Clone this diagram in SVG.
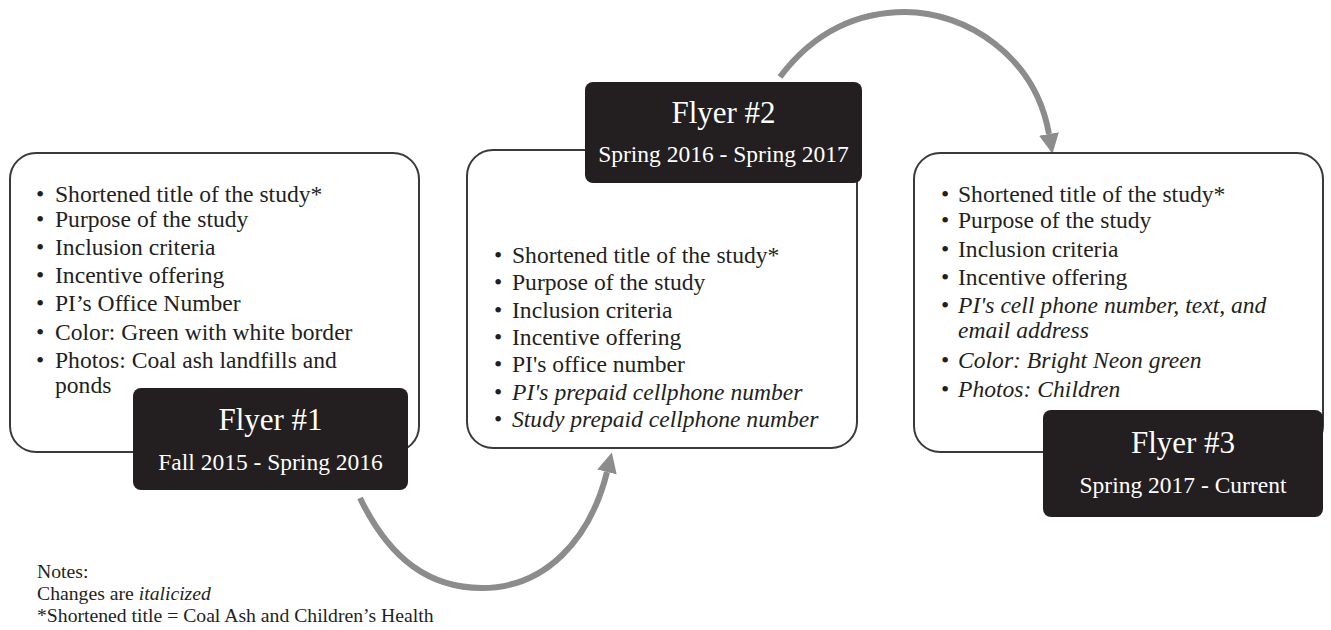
<svg xmlns="http://www.w3.org/2000/svg" width="1331" height="630" viewBox="0 0 1331 630">
<style>
.card{fill:#ffffff;stroke:#3a3a3a;stroke-width:2}
.tag{fill:#231f20}
.b{font-family:"Liberation Serif","Times New Roman",serif;font-size:23.6px;fill:#231f20}
.i{font-style:italic}
.t1{font-family:"Liberation Serif","Times New Roman",serif;font-size:31px;fill:#ffffff;text-anchor:middle}
.t2{font-family:"Liberation Serif","Times New Roman",serif;font-size:23.5px;fill:#ffffff;text-anchor:middle}
.note{font-family:"Liberation Serif","Times New Roman",serif;font-size:19.7px;fill:#231f20}
.arr{fill:none;stroke:#8c8c8c;stroke-width:6;stroke-linecap:butt}
</style>
<defs>
<marker id="ah" viewBox="0 0 10 10" refX="0" refY="5" markerWidth="20" markerHeight="20" markerUnits="userSpaceOnUse" orient="auto">
<path d="M0,0 L10,5 L0,10 z" fill="#8c8c8c"/>
</marker>
</defs>
<rect width="1331" height="630" fill="#ffffff"/>

<g id="connectors">
<path class="arr" d="M 360 498 C 390 560, 430 588, 482 588 C 545 588, 590 540, 607 472" marker-end="url(#ah)"/>
<path class="arr" d="M 780 77 C 815 30, 860 12, 905 12 C 965 12, 1035 55, 1049 134" marker-end="url(#ah)"/>
</g>

<g id="flyer1">
<rect class="card" x="10" y="153" width="409" height="299" rx="26"/>
<g class="b">
<text x="36" y="202">•</text><text x="55" y="202">Shortened title of the study*</text>
<text x="36" y="227">•</text><text x="55" y="227">Purpose of the study</text>
<text x="36" y="255">•</text><text x="55" y="255">Inclusion criteria</text>
<text x="36" y="283">•</text><text x="55" y="283">Incentive offering</text>
<text x="36" y="311">•</text><text x="55" y="311">PI’s Office Number</text>
<text x="36" y="340">•</text><text x="55" y="340">Color: Green with white border</text>
<text x="36" y="368">•</text><text x="55" y="368">Photos: Coal ash landfills and</text>
<text x="55" y="393">ponds</text>
</g>
<rect class="tag" x="133" y="388" width="275" height="102" rx="8"/>
<text class="t1" x="270.5" y="430">Flyer #1</text>
<text class="t2" x="270.5" y="470">Fall 2015 - Spring 2016</text>
</g>

<g id="flyer2">
<rect class="card" x="467" y="150" width="390" height="298" rx="26"/>
<g class="b">
<text x="494" y="263">•</text><text x="512" y="263">Shortened title of the study*</text>
<text x="494" y="290">•</text><text x="512" y="290">Purpose of the study</text>
<text x="494" y="318">•</text><text x="512" y="318">Inclusion criteria</text>
<text x="494" y="345">•</text><text x="512" y="345">Incentive offering</text>
<text x="494" y="372">•</text><text x="512" y="372">PI's office number</text>
<text x="494" y="400">•</text><text class="i" x="512" y="400">PI's prepaid cellphone number</text>
<text x="494" y="427">•</text><text class="i" x="512" y="427">Study prepaid cellphone number</text>
</g>
<rect class="tag" x="585" y="82" width="277" height="101" rx="8"/>
<text class="t1" x="723.5" y="123">Flyer #2</text>
<text class="t2" x="723.5" y="162">Spring 2016 - Spring 2017</text>
</g>

<g id="flyer3">
<rect class="card" x="914" y="153" width="409" height="299" rx="26"/>
<g class="b">
<text x="941" y="202">•</text><text x="958" y="202">Shortened title of the study*</text>
<text x="941" y="228">•</text><text x="958" y="228">Purpose of the study</text>
<text x="941" y="257">•</text><text x="958" y="257">Inclusion criteria</text>
<text x="941" y="285">•</text><text x="958" y="285">Incentive offering</text>
<text x="941" y="313">•</text><text class="i" x="958" y="313">PI's cell phone number, text, and</text>
<text class="i" x="958" y="338">email address</text>
<text x="941" y="368">•</text><text class="i" x="958" y="368">Color: Bright Neon green</text>
<text x="941" y="397">•</text><text class="i" x="958" y="397">Photos: Children</text>
</g>
<rect class="tag" x="1043" y="410" width="280" height="107" rx="8"/>
<text class="t1" x="1183" y="453">Flyer #3</text>
<text class="t2" x="1183" y="493">Spring 2017 - Current</text>
</g>

<g id="notes" class="note">
<text x="37" y="578">Notes:</text>
<text x="37" y="600">Changes are <tspan class="i">italicized</tspan></text>
<text x="37" y="622">*Shortened title = Coal Ash and Children’s Health</text>
</g>
</svg>
